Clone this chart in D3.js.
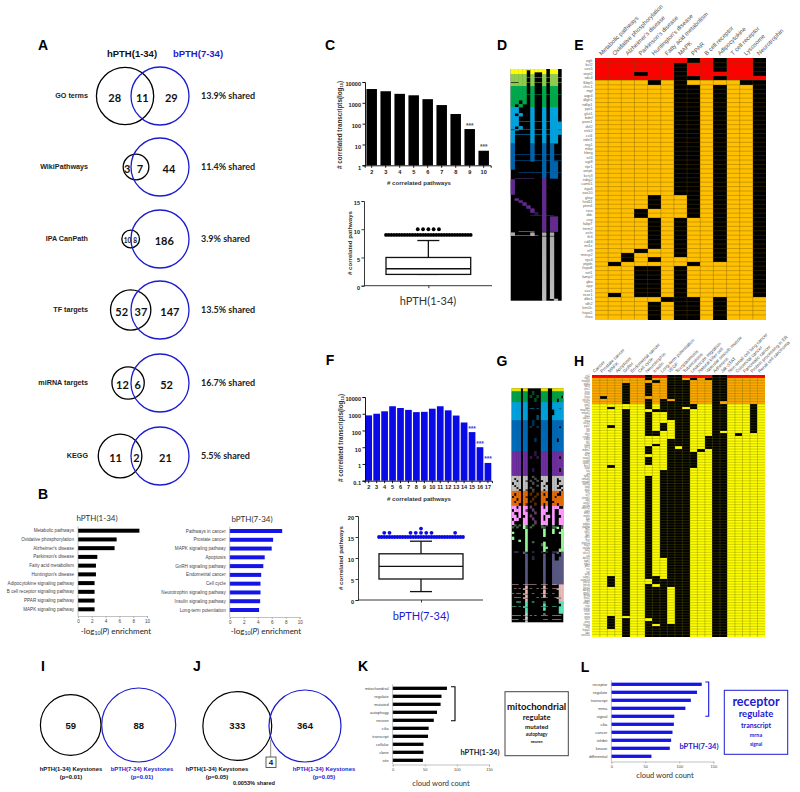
<!DOCTYPE html>
<html><head><meta charset="utf-8">
<script src="https://cdn.jsdelivr.net/npm/d3@7"></script>
<style>html,body{margin:0;padding:0;background:#fff}svg{display:block}text{dominant-baseline:central}</style>
</head><body><svg id="c" width="800" height="792"></svg>
<script>
// ---------- Panel A ----------
const vennNames=["GO terms","WikiPathways","IPA CanPath","TF targets","miRNA targets","KEGG"];
const vennLeft=[28,3,10,52,12,11];
const vennShared=[11,7,8,37,6,2];
const vennRight=[29,44,186,147,52,21];
const vennPct=["13.9% shared","11.4% shared","3.9% shared","13.5% shared","16.7% shared","5.5% shared"];
// ---------- Panel B ----------
const bLeftNames=["Metabolic pathways","Oxidative phosphorylation","Alzheimer's disease","Parkinson's disease","Fatty acid metabolism","Huntington's disease","Adipocytokine signaling pathway","B cell receptor signaling pathway","PPAR signaling pathway","MAPK signaling pathway"];
const bLeftVals=[8.9,5.6,5.3,2.8,2.6,2.6,2.4,2.4,2.4,2.4];
const bRightNames=["Pathways in cancer","Prostate cancer","MAPK signaling pathway","Apoptosis","GnRH signaling pathway","Endometrial cancer","Cell cycle","Neurotrophin signaling pathway","Insulin signaling pathway","Long-term potentiation"];
const bRightVals=[7.5,6.2,6.0,5.0,4.8,4.5,4.4,4.4,4.35,4.2];
// ---------- Panels C, F ----------
const cCats=[2,3,4,5,6,7,8,9,10];
const cVals=[4600,3600,2700,2300,1500,780,290,55,5];
const cStars=[9,10];
const fCats=[2,3,4,5,6,7,8,9,10,11,12,13,14,15,16,17];
const fVals=[800,1000,1400,2800,2200,1700,1250,1300,2000,2800,1600,780,300,80,10,1.15];
const fStars=[15,16,17];
const cBox={lo:2,q1:2,med:3,q3:5,hi:8,out:9,outSlots:33,top:10,topSlots:[12,14,16,18,20]};
const fBox={lo:2,q1:5,med:8,q3:11,hi:14,out:15,outSlots:33,top:16,topSlots:[2,4,12,14,16,18,20,29]};
const fTop17=[16];
// ---------- Panel D ("1" filled cell, "2" thin line across the cell) ----------
const dColors=["#ffff00","#92d050","#00b050","#00b0f0","#0070c0","#7030a0","#bfbfbf"];
const dRows=[[0,1,"1111111110110"],[0,2,"1111011110110"],[0,2,"1111010010110"],
[1,3,"1111010010110"],[1,1,"1111212212112"],[1,4,"1111010010110"],[1,1,"0011212212112"],[1,3,"1111010010110"],
[2,8,"1111010010110"],[2,1,"1111212212112"],[2,5,"1111010010110"],[2,4,"1101010010110"],[2,3,"1010010010110"],
[3,6,"1100010010110"],[3,3,"1010010010110"],[3,5,"1100010010110"],[3,1,"1122212212112"],[3,4,"1100010010111"],[3,3,"1010010010111"],[3,1,"0122212212112"],[3,4,"1000010010111"],[3,1,"1222212212112"],[3,8,"1000010010110"],
[4,11,"1000010010100"],[4,1,"1222212212122"],[4,5,"1000010010100"],[4,1,"1222212212122"],[4,8,"1000000010110"],[4,3,"0000000010110"],[4,1,"0022222212112"],[4,5,"0000000010110"],
[5,1,"0222220010000"],[5,15,"1000000010000"],[5,4,"0000000010000"],[5,2,"0100000010000"],[5,2,"0010000010000"],[5,3,"0001000010000"],[5,3,"0000100010000"],[5,4,"0000010010000"],[5,3,"0000002010000"],[5,1,"0000022212200"],[5,15,"0000000010110"],
[6,1,"0022220000000"],[6,3,"1000010010100"],[6,1,"0222222000000"],[6,62,"0000000010100"],[6,2,"0000000010010"]];
const eCols=["Metabolic pathways","Oxidative phosphorylation","Alzheimer's disease","Parkinson's disease","Huntington's disease","Fatty acid metabolism","MAPK","PPAR","B cell receptor","Adipocytokine","T cell receptor","Lysosome","Neurotrophin"];
const eGenes=["egfr","bcl2","cox5","sept2","sdc4","fkbp5","chrc1","mgl","aqp4","dlgh1","ndfip1","ppt1","glut1","bdnf","psen1","dvl2","ntrk2","ccl4","ndel1","nrg1","mbp","hbeg","tcf4","ugt8","itpr1","ampk","kcnj3","ndrg2","camk1","itga6","sox10","gfap","hsd11","pten4","rxra","ddc","cnp","fabp7","trem2","ocln","tlr4","cd44","mt1x","irf9","mecp2","rgs4","ptgds","hspa8","sirt1","lamp2","gba","app","cav1","ncor1","dbx1","idh2","kmt2c","hspa5","rhoa"];
const eBlack=[[],[[46,46],[53,53]],[[44,45]],[[3,3],[34,35],[43,43],[47,53]],[[5,5],[31,33],[36,42],[45,45],[47,53],[55,58]],[[54,54]],[[1,30],[36,44],[47,58]],[[0,0],[4,4],[6,35],[46,46],[54,58]],[],[[0,2],[4,4],[6,45],[54,58]],[],[[5,5]],[[0,3],[5,53]]];
const eRedRows=5;
// ---------- Panel G ----------
const gColors=["#ffff00","#00b050","#00b0f0","#0070c0","#7030a0","#bfbfbf","#e46c0a","#ff99ff","#99ff99","#60608f","#ffcccc","#66ffcc","#e8e8e8"];
const gRows=[[0,3,"11110110000001110011111"],
[1,4,"11110110020001110011111"],[1,3,"11110110200201110011110"],[1,4,"11110110002001110011011"],
[2,6,"11110110000001110011111"],[2,1,"11110110220201110011101"],[2,6,"11110110000001110001111"],[2,5,"11110110000201110011111"],
[3,6,"11110110020001110011111"],[3,2,"11110110200201110011101"],[3,10,"11110110000001110011111"],[3,4,"11110110002001110011011"],[3,9,"11110110000001110011111"],
[4,5,"11110110002001110011111"],[4,3,"11110110200201110011101"],[4,9,"11110110000001110011111"],[4,4,"11110110020001110011101"],[4,4,"11110110000001110011111"],
[5,2,"11110110020001110011111"],[5,2,"10110110002001110011011"],[5,2,"11010120200200110011001"],[5,3,"01110110020001100011011"],[5,2,"10110110000201010011100"],[5,2,"11010110200001110011001"],[5,2,"11100120020001010011110"],
[6,2,"11110110020001110011101"],[6,3,"10110110200201010011001"],[6,2,"01110120002001110010111"],[6,3,"11010110020001100011111"],[6,2,"10110110200001110001111"],[6,3,"11100120002001010011011"],
[7,3,"11010110200001010011100"],[7,3,"01110120020001110010011"],[7,3,"10010110002001100010011"],[7,3,"11010010200001011010001"],[7,3,"01100110020001010010011"],[7,4,"10000110002001110010011"],
[8,2,"02020120020002020020002"],[8,2,"20200120200002200022102"],[8,3,"00000010000000100010001"],[8,2,"10000010000000100010011"],[8,3,"00000010000000100000001"],[8,3,"10000010000000000000001"],[8,2,"00010010000000000000001"],[8,2,"00000010020000100000001"],[8,3,"00000010000002100000001"],[8,2,"00000010000000110000001"],[8,3,"00000010000000100000011"],
[9,2,"02200120020002020022101"],[9,3,"00000010000000100010001"],[9,4,"00000010020000100010011"],[9,24,"00000010000000100011111"],
[10,1,"22200222222002220022011"],[10,3,"00000010000000100000011"],[10,1,"02020120200202020022111"],[10,4,"00000010000000100000011"],[10,1,"20220120020002220020011"],[10,3,"00000010000000100000011"],[10,1,"02220120000202020002101"],[10,3,"00000010000000000000011"],
[11,2,"00220010020000200000011"],[11,3,"00000010000000100000001"],[11,1,"22020120000002020022011"],[11,3,"00000010000000100000011"],[11,3,"00000010000000000000011"],
[12,2,"00000010000000200000000"],[12,1,"22220220202002220022220"],[12,3,"00000010000000000000000"],[12,1,"22200220000000220022220"],[12,2,"00000010000000000000000"]];
const hCols=["Cancer","Prostate cancer","MAPK","Apoptosis","GnRH","Endometrial cancer","Cell cycle","Neurotrophin","Insulin","Long-term potentiation","VEGF","Toxoplasmosis","Tuberculosis","Leukocyte migration","Natural killer cell","Vascular smooth muscle","Adherens","Jak-STAT","Non-small cell lung cancer","Colorectal cancer","Pancreatic cancer","Protein processing in ER","Renal cell carcinoma"];
const hGenes=["irs1","egr1","mapk8","gab1","akt3","shc1","kras","nras","hras","pik3r1","sos1","grb2","raf1","map2k1","mapk1","rac1","cdc42","rhoa","rock2","pak2","fos","jun","myc","ccnd1","cdk4","rb1","e2f3","tp53","mdm2","bax","bcl2","casp3","casp9","apaf1","birc3","xiap","fas","tnf","tgfb2","smad3","smad4","wnt5a","fzd4","dvl1","lef1","tcf7","ctnnb1","apc","axin2","gsk3b","notch2","jag1","hes1","vegfa","kdr","flt1","pdgfa","pdgfrb","fgf2","fgfr1","igf1","igf1r","insr","ptpn11","stat3","stat5b","jak2","socs3","crk","dock1","itgb1","itga5","ptk2","src","vcl","actb","calm1","camk2d","prkca","prkcb","plcg1","adcy3","gnai2","gnaq","ntrk2","bdnf","nfkb1","rela","ikbkb","chuk","mtor","rptor","tsc2","pten","foxo3","atf4","hspa5","ubc","sec61a"];
const hBlack=[[],[[8,8]],[[12,12],[19,19],[34,34],[76,79],[91,95]],[],[[3,10],[13,90],[92,98]],[],[],[[0,1],[3,7],[9,12],[14,19],[20,22],[27,29],[31,33],[38,76],[79,91],[93,98]],[[2,2],[13,13],[21,22],[26,26],[76,78],[80,93],[95,98]],[[9,13],[18,20],[36,68],[77,98]],[[0,8],[10,16],[24,79],[94,98]],[[0,26],[28,98]],[[2,11],[13,98]],[[1,1],[11,12],[29,34]],[[28,28]],[[1,1],[23,27]],[[0,98]],[[0,9],[11,20],[22,98]],[],[[22,22]],[],[[11,21]],[]];
const hRedRows=1,hOrangeRows=11;
// ---------- Panel I, J ----------
const iCounts=[59,88];
const jCounts=[333,364];
const jShared=[4];
// ---------- Panels K, L ----------
const kWords=["mitochondrial","regulate","mutated","autophagy","neuron","cilia","transcript","cellular","clone","site"];
const kVals=[84.5,76,74.6,69,64,56,55,48,48,47];
const lWords=["receptor","regulate","transcript","mrna","signal","cilia","cancer","inhibit","kinase","differential"];
const lVals=[133,126,117,109,92.6,92,90,88,86,59];
const kCloud=["mitochondrial","regulate","mutated","autophagy","neuron"];
const lCloud=["receptor","regulate","transcript","mrna","signal"];

// ---------- Drawing ----------
const BLUE="#1c1ccf",svg=d3.select("#c");
const SANS="'Liberation Sans',Arial,sans-serif",CAL="Lato,'Open Sans',sans-serif";
function txt(g,x,y,s,o={}){return g.append("text").attr("x",x).attr("y",y).text(s)
 .attr("font-family",o.f||SANS).attr("font-size",o.s||7).attr("font-weight",o.w||"normal")
 .attr("fill",o.c||"#111").attr("text-anchor",o.a||"middle");}

[["A",43,45],["B",43,494],["C",330,45],["F",330,360],["D",502,45],["E",579,45],["G",502,361],["H",579,361],["I",43,666],["J",197,666],["K",363,666],["L",585,667]]
 .forEach(d=>txt(svg,d[1],d[2],d[0],{s:14,w:"bold",c:"#000"}));

// Area-proportional two-circle venn: centre distance solved from lens area.
function lens(r,R,d){ if(d>=r+R) return 0; if(d<=Math.abs(R-r)) return Math.PI*Math.min(r,R)**2;
 const a=r*r*Math.acos((d*d+r*r-R*R)/(2*d*r)),b=R*R*Math.acos((d*d+R*R-r*r)/(2*d*R));
 return a+b-.5*Math.sqrt((-d+r+R)*(d+r-R)*(d-r+R)*(d+r+R));}
function venn(l,s,r,big){
 const tl=l+s,tr=r+s,rs=d3.scaleSqrt().domain([0,Math.max(tl,tr)]).range([0,big]);
 const r1=rs(tl),r2=rs(tr),target=s*(Math.PI*big*big/Math.max(tl,tr));
 let lo=Math.abs(r2-r1),hi=r1+r2;
 d3.range(50).forEach(()=>{const m=(lo+hi)/2; if(lens(r1,r2,m)>target)lo=m;else hi=m;});
 return {r1,r2,d:s?(lo+hi)/2:r1+r2};}
vennNames.forEach((n,i)=>{
 const y=[96,167,239,310,383,456][i],v=venn(vennLeft[i],vennShared[i],vennRight[i],29),bx=160,ax=bx-v.d;
 svg.append("circle").attr("cx",ax).attr("cy",y).attr("r",v.r1).attr("fill","none").attr("stroke","#000").attr("stroke-width",1.3);
 svg.append("circle").attr("cx",bx).attr("cy",y).attr("r",v.r2).attr("fill","none").attr("stroke",BLUE).attr("stroke-width",1.3);
 const fs=vennLeft[i]===10?6.5:11, aL=ax-v.r1,bL=bx-v.r2,aR=ax+v.r1,bR=bx+v.r2;
 txt(svg,(aL+bL)/2+(i==1?0:1),y+1,vennLeft[i],{f:CAL,s:fs,w:"bold",c:"#111"});
 txt(svg,(bL+aR)/2,y+1,vennShared[i],{f:CAL,s:fs,w:"bold",c:"#111"});
 txt(svg,(aR+bR)/2,y+1,vennRight[i],{f:CAL,s:11,w:"bold",c:"#111"});
 txt(svg,88,y-1,n,{s:7.2,w:"bold",a:"end",c:"#222"});
 txt(svg,201,y-1,vennPct[i],{f:CAL,s:9,w:"bold",a:"start",c:"#222"});
});
txt(svg,132,53,"hPTH(1-34)",{s:9.5,w:"bold"});
txt(svg,198,53,"bPTH(7-34)",{s:9.5,w:"bold",c:BLUE});

// Horizontal bars
function hbars(o){
 const x=d3.scaleLinear().domain([0,o.max]).range([o.x0,o.x1]);
 const step=(o.y1-o.y0)/(o.names.length-1);
 const y=d3.scaleBand().domain(o.names).range([o.y0-step/2,o.y1+step/2]).paddingInner(1-o.bh/step).paddingOuter((1-o.bh/step)/2);
 const g=svg.append("g");
 g.selectAll("rect").data(o.names).join("rect").attr("x",o.x0).attr("y",d=>y(d)).attr("width",(d,i)=>x(o.vals[i])-o.x0).attr("height",y.bandwidth()).attr("fill",o.c);
 g.selectAll("text.l").data(o.names).join("text").attr("class","l").attr("x",o.x0-4).attr("y",d=>y(d)+y.bandwidth()/2).text(d=>d)
  .attr("font-family",SANS).attr("font-size",o.fs).attr("text-anchor","end").attr("fill","#444");
 g.append("line").attr("x1",o.x0).attr("x2",o.x0).attr("y1",o.y0-step/2).attr("y2",o.ya).attr("stroke","#999").attr("stroke-width",.6);
 const ax=svg.append("g").attr("transform",`translate(0,${o.ya})`).call(d3.axisBottom(x).tickValues(o.ticks).tickSize(2).tickPadding(1.5));
 ax.selectAll("path,line").attr("stroke","#999").attr("stroke-width",.6);
 ax.selectAll("text").attr("font-family",SANS).attr("font-size",o.tfs).attr("fill","#444").attr("dy",".4em");
}
hbars({names:bLeftNames,vals:bLeftVals,c:"#000",x0:78,x1:147,max:10,y0:530.7,y1:609.3,bh:4,fs:4.6,ya:616,ticks:[0,2,4,6,8,10],tfs:4.6});
hbars({names:bRightNames,vals:bRightVals,c:"#1414e6",x0:229.7,x1:299.7,max:10,y0:531,y1:610,bh:4,fs:4.6,ya:617,ticks:[0,2,4,6,8,10],tfs:4.6});
txt(svg,97,518,"hPTH(1-34)",{f:CAL,s:8,c:"#333"});
txt(svg,252,519,"bPTH(7-34)",{f:CAL,s:8,c:"#333"});
[116,266].forEach(px=>{
 const t=txt(svg,px,631,"",{f:CAL,s:8,c:"#222"});
 t.append("tspan").text("-log");
 t.append("tspan").text("10").attr("font-size",5.2).attr("dy",2);
 t.append("tspan").text("(").attr("dy",-2);
 t.append("tspan").text("P").attr("font-style","italic");
 t.append("tspan").text(") enrichment");
});

// Log-scale bars
function logBars(o){
 const x=d3.scaleBand().domain(o.cats).range([o.cx0-o.step/2,o.cx0-o.step/2+o.step*o.cats.length]).paddingInner(1-o.bw/o.step).paddingOuter((1-o.bw/o.step)/2);
 const y=d3.scaleLog().domain([o.min,10000]).range([o.yb,o.yt]);
 svg.selectAll(null).data(o.cats).join("rect").attr("x",d=>x(d)).attr("y",(d,i)=>y(o.vals[i])).attr("width",x.bandwidth()).attr("height",(d,i)=>o.yb-y(o.vals[i])).attr("fill",o.c);
 const ya=svg.append("g").attr("transform",`translate(${o.ax},0)`).call(d3.axisLeft(y).tickValues(o.ticks).tickFormat(d3.format("~g")).tickSize(2.5).tickPadding(1.5));
 const xa=svg.append("g").attr("transform",`translate(0,${o.yb})`).call(d3.axisBottom(x).tickSize(2.5).tickPadding(1.5));
 [ya,xa].forEach(a=>{a.selectAll("path,line").attr("stroke","#000").attr("stroke-width",.9);
  a.selectAll("text").attr("font-family",SANS).attr("font-size",5.6).attr("font-weight","bold").attr("fill","#222");});
 xa.selectAll("text").attr("dy",".5em");
 o.stars.forEach(s=>txt(svg,x(s)+x.bandwidth()/2,y(o.vals[o.cats.indexOf(s)])-4,"***",{s:6.5,w:"bold",c:o.sc}));
}
logBars({cats:cCats,vals:cVals,cx0:371.7,step:14,bw:10.5,min:1,yb:165.3,yt:82,ax:365,ticks:[1,10,100,1000,10000],c:"#000",stars:cStars,sc:"#555"});
logBars({cats:fCats,vals:fVals,cx0:368.7,step:7.95,bw:6.7,min:.1,yb:480.7,yt:397,ax:365,ticks:[.1,1,10,100,1000,10000],c:"#0a0ae6",stars:fStars,sc:"#3a3ae6"});
txt(svg,419,182,"# correlated pathways",{s:6.1,w:"bold",c:"#333"});
txt(svg,419,498,"# correlated pathways",{s:6.1,w:"bold",c:"#333"});
function ytitle(x,y,base,sub,s){
 const t=svg.append("text").attr("transform",`translate(${x},${y}) rotate(-90)`).attr("text-anchor","middle").attr("font-family",SANS).attr("font-size",s).attr("font-weight","bold").attr("fill","#333").text(base);
 if(sub){t.append("tspan").text(sub).attr("font-size",s*.65).attr("dy",1.5);t.append("tspan").text(")").attr("dy",-1.5);}
}
ytitle(339,125,"# correlated transcripts(log","10",6.3);
ytitle(340,438,"# correlated transcripts(log","10",6.3);

// Box plots
function box(o){
 const y=d3.scaleLinear().domain([0,o.dmax]).range([o.yb,o.yt]);
 const sl=d3.scalePoint().domain(d3.range(o.b.outSlots)).range([o.x0,o.x1]);
 const mid=(o.x0+o.x1)/2,g=svg.append("g");
 const ya=g.append("g").attr("transform",`translate(${o.ax},0)`).call(d3.axisLeft(y).tickValues(o.ticks).tickSize(2.5).tickPadding(1.5));
 const xs=d3.scalePoint().domain([o.label]).range([mid,mid]);
 const xa=g.append("g").attr("transform",`translate(0,${o.yb})`).call(d3.axisBottom(xs).tickSize(2.5).tickFormat(""));
 xa.select("path").attr("d",`M${o.ax},0H${o.axEnd}`);
 [ya,xa].forEach(a=>{a.selectAll("path,line").attr("stroke","#222").attr("stroke-width",.9);
  a.selectAll("text").attr("font-family",SANS).attr("font-size",5.6).attr("font-weight","bold").attr("fill","#222");});
 const b=o.b,ln=(x1,y1,x2,y2)=>g.append("line").attr("x1",x1).attr("y1",y1).attr("x2",x2).attr("y2",y2).attr("stroke","#111").attr("stroke-width",1.3);
 ln(mid,y(b.q3),mid,y(b.hi)); ln(mid-11,y(b.hi),mid+11,y(b.hi));
 ln(mid,y(b.q1),mid,y(b.lo)); ln(mid-11,y(b.lo),mid+11,y(b.lo));
 g.append("rect").attr("x",o.x0).attr("y",y(b.q3)).attr("width",o.x1-o.x0).attr("height",y(b.q1)-y(b.q3)).attr("fill","#fff").attr("stroke","#111").attr("stroke-width",1.3);
 ln(o.x0,y(b.med),o.x1,y(b.med));
 g.selectAll("circle.o").data(sl.domain()).join("circle").attr("class","o").attr("cx",d=>sl(d)).attr("cy",y(b.out)).attr("r",1.9).attr("fill",o.c);
 g.selectAll("circle.t").data(b.topSlots).join("circle").attr("class","t").attr("cx",d=>sl(d)).attr("cy",y(b.top)).attr("r",1.9).attr("fill",o.c);
 (o.extra||[]).forEach(s=>g.append("circle").attr("cx",sl(s)).attr("cy",y(b.top+1)).attr("r",1.9).attr("fill",o.c));
}
box({b:cBox,yb:285.7,yt:201,dmax:15,ax:364,axEnd:492,x0:386,x1:470.7,ticks:[0,5,10,15],c:"#000",label:"c"});
box({b:fBox,yb:600,yt:516,dmax:20,ax:358,axEnd:483,x0:379,x1:463,ticks:[0,5,10,15,20],c:"#0a0ae6",extra:fTop17,label:"f"});
ytitle(349,243,"# correlated pathways",null,6.1);
ytitle(340,558,"# correlated pathways",null,6.1);
txt(svg,428,300,"hPTH(1-34)",{f:CAL,s:11,c:"#333"});
txt(svg,421,615,"bPTH(7-34)",{f:CAL,s:11,c:BLUE});

// Cluster strips (D, G)
function strip(rows,colors,x0,x1,y0,y1){
 const expanded=rows.flatMap(r=>d3.range(r[1]).map(()=>r));
 const n=rows[0][2].length;
 const y=d3.scaleBand().domain(d3.range(expanded.length)).range([y0,y1]);
 const x=d3.scaleBand().domain(d3.range(n)).range([x0,x1]);
 const g=svg.append("g");
 g.append("rect").attr("x",x0).attr("y",y0).attr("width",x1-x0).attr("height",y1-y0).attr("fill","#000");
 expanded.forEach((r,i)=>{ d3.range(n).forEach(c=>{ const v=r[2][c]; if(v!=="0")
  g.append("rect").attr("x",x(c)).attr("y",y(i)).attr("width",x.bandwidth()+.3).attr("height",v==="1"?y.bandwidth()+.3:y.bandwidth()*.45).attr("fill",colors[r[0]]);});});
}
strip(dRows,dColors,510.7,561.7,69,300.7);
strip(gRows,gColors,511.7,563.3,388.3,622.3);

// Heat tables (E, H)
function heat(o){
 const nr=o.genes.length;
 const x=d3.scaleBand().domain(o.cols).range([o.x0,o.x1]);
 const y=d3.scaleBand().domain(d3.range(nr)).range([o.y0,o.y1]);
 const g=svg.append("g");
 o.cols.forEach((c,j)=>{
  const blk=new Set(o.black[j].flatMap(s=>d3.range(s[0],s[1]+1)));
  d3.range(nr).forEach(i=>g.append("rect").attr("x",x(c)).attr("y",y(i)).attr("width",x.bandwidth()+.2).attr("height",y.bandwidth()+.2)
   .attr("fill",blk.has(i)?"#000":o.fill(i)).attr("shape-rendering","crispEdges"));
 });
 const grid=g.append("g").attr("stroke",o.grid).attr("stroke-width",.45).attr("opacity",.75);
 o.cols.forEach((c,j)=>{ if(j) grid.append("line").attr("x1",x(c)).attr("x2",x(c)).attr("y1",o.y0).attr("y2",o.y1);});
 d3.range(1,nr).forEach(i=>grid.append("line").attr("x1",o.x0).attr("x2",o.x1).attr("y1",y(i)).attr("y2",y(i)));
 svg.selectAll(null).data(o.genes).join("text").attr("x",o.x0-2.5).attr("y",(d,i)=>y(i)+y.bandwidth()/2).text(d=>d)
  .attr("font-family",SANS).attr("font-size",o.gfs).attr("text-anchor","end").attr("fill","#666");
 svg.selectAll(null).data(o.cols).join("text").attr("transform",d=>`translate(${x(d)+x.bandwidth()/2+o.lx},${o.y0-o.ly}) rotate(-45)`).text(d=>d)
  .attr("font-family",SANS).attr("font-size",o.cfs).attr("text-anchor","start").attr("fill","#555");
}
heat({cols:eCols,genes:eGenes,black:eBlack,fill:i=>i<eRedRows?"#ff0000":"#ffc000",grid:"#6b4e00",x0:595,x1:766,y0:58.3,y1:319.3,gfs:3.8,cfs:6,lx:-1.5,ly:4});
heat({cols:hCols,genes:hGenes,black:hBlack,fill:i=>i<hRedRows?"#ff0000":i<hOrangeRows?"#ffa800":"#ffff00",grid:"#6b6b00",x0:592.3,x1:765,y0:375,y1:637,gfs:2.7,cfs:4.6,lx:-2.5,ly:3});

// Keystone venns
function keyVenn(a,b,s,big,cyA,ax,bx){
 const v=venn(a,s,b,big);
 svg.append("circle").attr("cx",ax).attr("cy",cyA).attr("r",v.r1).attr("fill","none").attr("stroke","#000").attr("stroke-width",1.2);
 svg.append("circle").attr("cx",bx).attr("cy",cyA).attr("r",v.r2).attr("fill","none").attr("stroke",BLUE).attr("stroke-width",1.2);
 txt(svg,ax,725,a,{s:9.5,w:"bold"}); txt(svg,bx,725,b,{s:9.5,w:"bold"});
}
keyVenn(iCounts[0],iCounts[1],0,37,725,70.7,138.7);
keyVenn(jCounts[0],jCounts[1],jShared[0],36,726,237.3,305);
txt(svg,71,769,"hPTH(1-34) Keystones",{s:5.9,w:"bold"});txt(svg,71,777,"(p=0.01)",{s:5.9,w:"bold"});
txt(svg,142,769,"bPTH(7-34) Keystones",{s:5.9,w:"bold",c:BLUE});txt(svg,142,777,"(p=0.01)",{s:5.9,w:"bold",c:BLUE});
txt(svg,217,769,"hPTH(1-34) Keystones",{s:5.9,w:"bold"});txt(svg,217,777,"(p=0.05)",{s:5.9,w:"bold"});
txt(svg,324,769,"hPTH(1-34) Keystones",{s:5.9,w:"bold",c:BLUE});txt(svg,324,777,"(p=0.05)",{s:5.9,w:"bold",c:BLUE});
txt(svg,254,783,"0.0053% shared",{s:5.6,w:"bold"});
svg.append("line").attr("x1",270.7).attr("x2",270.7).attr("y1",740).attr("y2",757).attr("stroke","#888").attr("stroke-width",1);
svg.append("rect").attr("x",266).attr("y",757).attr("width",10).attr("height",10.5).attr("fill","#fff").attr("stroke","#333").attr("stroke-width",.8);
txt(svg,271,762.5,jShared[0],{s:8,w:"bold"});

// Word-count bars
hbars({names:kWords,vals:kVals,c:"#000",x0:392.7,x1:489,max:150,y0:688.3,y1:760.3,bh:3.3,fs:4,ya:764.5,ticks:[0,50,100,150],tfs:4});
hbars({names:lWords,vals:lVals,c:"#1414e6",x0:611.3,x1:713.3,max:150,y0:684.3,y1:756.3,bh:3.3,fs:4,ya:761.5,ticks:[0,50,100,150],tfs:4});
txt(svg,441,783,"cloud word count",{f:CAL,s:7.5,c:"#333"});
txt(svg,665,775,"cloud word count",{f:CAL,s:7.5,c:"#333"});
txt(svg,480,752,"hPTH(1-34)",{f:CAL,s:7.5,w:"bold",c:"#222"});
txt(svg,699,746,"bPTH(7-34)",{f:CAL,s:7.5,w:"bold",c:BLUE});
function bracket(x0,x1,y0,y1,c){svg.append("path").attr("d",`M${x0},${y0}H${x1}V${y1}H${x0}`).attr("fill","none").attr("stroke",c).attr("stroke-width",1.1);}
bracket(451,455,686.7,720.7,"#000");
bracket(705.3,708.7,682,716.3,"#1414e6");
function cloud(words,x,y,w,h,c,sizes,ys,stroke){
 svg.append("rect").attr("x",x).attr("y",y).attr("width",w).attr("height",h).attr("fill","#fff").attr("stroke",stroke).attr("stroke-width",1);
 words.forEach((t,i)=>txt(svg,x+w/2,ys[i],t,{f:CAL,s:sizes[i],w:"bold",c}));
}
cloud(kCloud,505,691.7,63.3,64,"#111",[9.6,7.6,6.2,4.6,3.8],[706,716.7,726,734,741],"#444");
cloud(lCloud,724.3,690.3,63.4,64,BLUE,[12.5,9.5,7,5.4,4.8],[701,713.7,725,735,744],BLUE);
</script></body></html>
